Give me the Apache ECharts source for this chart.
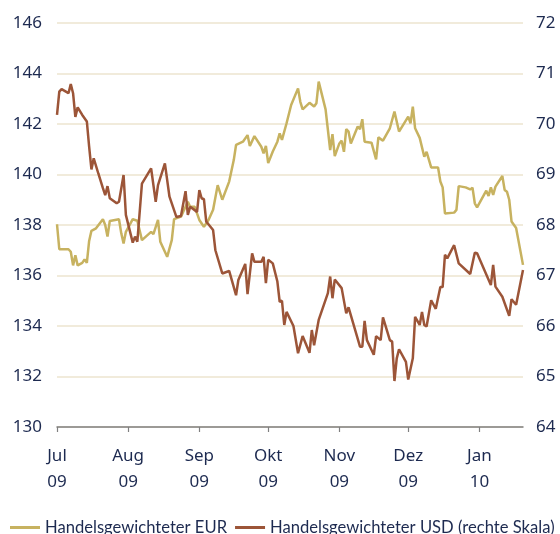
<!DOCTYPE html>
<html>
<head>
<meta charset="utf-8">
<script src="https://cdn.jsdelivr.net/npm/echarts@6/dist/echarts.min.js"></script>
<style>html,body{margin:0;padding:0;background:#fff}#c{width:560px;height:534px}</style>
</head>
<body>
<div id="c"></div>
<script>
// Month names (German) for the x axis labels
var monthNames = ['Jan','Feb','Mär','Apr','Mai','Jun','Jul','Aug','Sep','Okt','Nov','Dez'];
var startDate = [2009, 6, 1];   // 1 Jul 2009
var dayCount = 204;             // through 20 Jan 2010

var leftTicks = [130, 146, 2];
var rightTicks = [64, 72, 1];

// Handelsgewichteter EUR (left scale): day offset from 1 Jul 2009, value
var eurDays = [0,1,5,6,7,8,9,11,12,13,14,15,17,20,21,22,23,27,28,29,30,33,35,37,41,42,44,45,48,50,51,54,57,58,60,62,64,66,68,70,72,75,77,78,81,83,84,86,89,90,91,92,94,96,97,98,100,102,105,106,107,110,112,113,114,117,119,120,121,123,124,125,126,127,128,131,132,133,134,137,139,140,142,145,147,149,153,154,155,156,158,160,161,163,166,167,168,169,173,174,175,178,180,181,182,183,187,188,189,190,191,194,195,196,197,198,200,203];
var eurVals = [138.03,137.04,137.04,136.94,136.4,136.8,136.4,136.5,136.64,136.5,137.37,137.77,137.87,138.23,138.0,137.54,138.16,138.23,137.67,137.27,137.73,138.23,138.17,137.4,137.73,137.64,138.2,137.34,136.74,137.4,138.23,138.33,138.92,138.72,138.72,138.2,137.93,138.2,138.6,139.58,139.0,139.72,140.57,141.17,141.3,141.56,141.13,141.52,141.1,140.84,141.13,140.45,140.91,141.3,141.63,141.37,142.03,142.75,143.41,142.88,142.58,142.84,142.69,142.82,143.68,142.58,140.97,141.6,140.73,141.23,141.34,140.9,141.8,141.7,141.23,141.9,141.79,142.19,141.3,141.26,140.6,141.47,141.34,141.83,142.49,141.7,142.29,142.03,142.69,141.83,141.45,140.7,140.9,140.28,140.28,139.72,139.49,138.46,138.49,138.6,139.54,139.49,139.41,139.48,138.86,138.7,139.36,139.15,139.49,139.19,139.52,139.94,139.39,139.32,139.0,138.14,137.88,136.42];

// Handelsgewichteter USD (right scale)
var usdDays = [0,1,2,5,6,7,8,9,11,13,14,15,16,18,20,21,22,23,26,27,29,30,33,34,35,37,41,43,44,47,49,52,54,56,57,58,61,62,63,64,65,68,69,72,75,78,79,82,83,85,86,89,90,91,92,94,96,97,98,99,100,103,105,107,110,111,112,114,118,119,120,121,124,126,127,132,133,134,135,138,139,141,142,145,146,147,148,149,152,153,155,156,158,159,160,161,163,165,167,168,169,170,173,175,180,182,183,189,190,191,194,197,198,200,203];
var usdVals = [70.18,70.64,70.69,70.61,70.79,70.61,70.14,70.33,70.18,70.05,69.55,69.10,69.32,69.02,68.73,68.59,68.77,68.53,68.43,68.46,68.99,68.2,67.65,67.77,67.67,68.82,69.12,68.46,68.79,69.22,68.56,68.16,68.18,68.67,68.2,68.36,68.26,68.69,68.53,68.51,68.07,67.9,67.5,67.04,67.09,66.61,66.91,67.23,66.63,67.44,67.27,67.27,67.37,66.85,67.31,67.24,66.88,66.48,66.5,66.02,66.28,66.0,65.46,65.8,65.47,65.92,65.62,66.12,66.65,66.98,66.55,66.92,66.75,66.25,66.37,65.59,65.59,66.1,65.72,65.43,65.8,65.72,66.17,65.72,65.69,64.91,65.36,65.54,65.29,64.94,65.36,66.18,66.02,66.28,66.02,65.99,66.51,66.34,66.77,66.77,67.41,67.34,67.6,67.24,67.03,67.45,67.44,66.81,67.21,66.78,66.58,66.2,66.53,66.42,67.11];

var seriesNames = ['Handelsgewichteter EUR', 'Handelsgewichteter USD (rechte Skala)'];
var colors = ['#c7b260', '#9c5538'];

// build category axis (one category per calendar day)
var cats = [];
for (var i = 0; i < dayCount; i++) {
  var d = new Date(Date.UTC(startDate[0], startDate[1], startDate[2] + i));
  var mm = ('0' + (d.getUTCMonth() + 1)).slice(-2);
  var dd = ('0' + d.getUTCDate()).slice(-2);
  cats.push(d.getUTCFullYear() + '-' + mm + '-' + dd);
}
function pairs(days, vals) {
  return days.map(function (dy, k) { return [cats[dy], vals[k]]; });
}
function isMonthStart(idx, val) { return cats[idx].slice(8) === '01'; }

var textColor = '#1d2a50';
var font = 'Noto Sans';

var chart = echarts.init(document.getElementById('c'), null, {renderer: 'canvas'});
chart.setOption({
  animation: false,
  backgroundColor: '#ffffff',
  grid: {left: 57, right: 37, top: 23, bottom: 107},
  legend: {
    left: 5, top: 514, width: 555, padding: [5, 0, 5, 5],
    icon: 'rect', itemWidth: 30, itemHeight: 3, itemGap: 8,
    textStyle: {color: textColor, fontSize: 16.6, fontFamily: 'Lato', padding: [0, 0, 0, 0]},
    data: seriesNames
  },
  xAxis: {
    type: 'category',
    data: cats,
    boundaryGap: false,
    axisLine: {lineStyle: {color: '#808080', width: 1.5}},
    axisTick: {interval: isMonthStart, length: 5, lineStyle: {color: '#808080', width: 1.2}},
    axisLabel: {
      interval: isMonthStart,
      margin: 16,
      color: textColor, fontSize: 17, fontFamily: font, lineHeight: 26,
      formatter: function (v) {
        var p = v.split('-');
        return monthNames[parseInt(p[1], 10) - 1] + '\n' + p[0].slice(2);
      }
    },
    splitLine: {show: false}
  },
  yAxis: [{
    type: 'value', min: leftTicks[0], max: leftTicks[1], interval: leftTicks[2],
    axisLine: {show: false}, axisTick: {show: false},
    axisLabel: {margin: 15, color: textColor, fontSize: 17, fontFamily: font},
    splitLine: {lineStyle: {color: '#ede5cf', width: 1.5}}
  }, {
    type: 'value', min: rightTicks[0], max: rightTicks[1], interval: rightTicks[2],
    position: 'right',
    axisLine: {show: false}, axisTick: {show: false},
    axisLabel: {margin: 13, color: textColor, fontSize: 17, fontFamily: font},
    splitLine: {show: false}
  }],
  series: [{
    name: seriesNames[0], type: 'line', yAxisIndex: 0,
    data: pairs(eurDays, eurVals), showSymbol: false, symbol: 'none',
    connectNulls: true,
    lineStyle: {color: colors[0], width: 2.5}, itemStyle: {color: colors[0]}
  }, {
    name: seriesNames[1], type: 'line', yAxisIndex: 1,
    data: pairs(usdDays, usdVals), showSymbol: false, symbol: 'none',
    connectNulls: true,
    lineStyle: {color: colors[1], width: 2.5}, itemStyle: {color: colors[1]}
  }]
});
</script>
</body>
</html>
